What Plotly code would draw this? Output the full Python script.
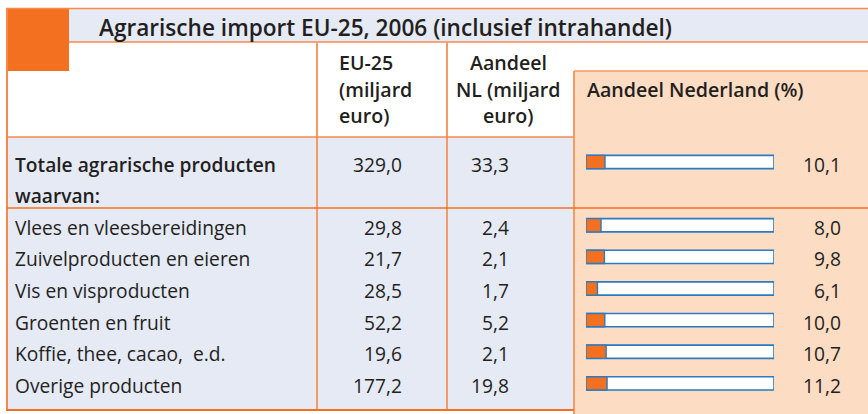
import plotly.graph_objects as go

# ---- data ----
title = "Agrarische import EU-25, 2006 (inclusief intrahandel)"
total_label = "Totale agrarische producten"
total_sub = "waarvan:"
categories = ["Vlees en vleesbereidingen", "Zuivelproducten en eieren", "Vis en visproducten",
              "Groenten en fruit", "Koffie, thee, cacao,  e.d.", "Overige producten"]
eu25 = [29.8, 21.7, 28.5, 52.2, 19.6, 177.2]
nl = [2.4, 2.1, 1.7, 5.2, 2.1, 19.8]
share = [8.0, 9.8, 6.1, 10.0, 10.7, 11.2]
total_eu25 = 329.0
total_nl = 33.3
total_share = 10.1
col_eu_header = ["EU-25", "(miljard", "euro)"]
col_nl_header = ["Aandeel", "NL (miljard", "euro)"]
col_share_header = "Aandeel Nederland (%)"

# ---- style ----
W, H = 868, 414
FONT = "Open Sans"
TXT = "#231f20"
ORANGE = "#f37021"
LINE = "#f58a4b"
LINE_V = "#f69a63"
BLUE_BG = "#e6eaf5"
PEACH = "#fddcc4"
BAR_EDGE = "#2a7bbf"
FS = 19.2
FS_HEAD = 19.6

def fmt(v):
    return f"{v:.1f}".replace(".", ",")

row_cats = [total_label, total_sub] + categories
data_cats = [total_label] + categories
data_share = [total_share] + share

fig = go.Figure()

fig.add_trace(go.Bar(x=[100] * len(data_cats), y=data_cats, orientation="h",
                     xaxis="x2", yaxis="y2", width=0.42,
                     marker=dict(color="white", line=dict(color=BAR_EDGE, width=1.6)),
                     hoverinfo="skip", showlegend=False))
fig.add_trace(go.Bar(x=data_share, y=data_cats, orientation="h",
                     xaxis="x2", yaxis="y2", width=0.42,
                     marker=dict(color=ORANGE, line=dict(color=BAR_EDGE, width=1.4)),
                     showlegend=False))

shapes = []
def rect(x0, y0, x1, y1, color):
    shapes.append(dict(type="rect", xref="x", yref="y", x0=x0, y0=y0, x1=x1, y1=y1,
                       fillcolor=color, line=dict(width=0), layer="below"))
def line(x0, y0, x1, y1, color=LINE, w=1.6):
    shapes.append(dict(type="line", xref="x", yref="y", x0=x0, y0=y0, x1=x1, y1=y1,
                       line=dict(color=color, width=w), layer="below"))

rect(69, 9, W, 42, BLUE_BG)
rect(7, 9, 69, 71, ORANGE)
rect(574, 71, W, H, PEACH)
rect(7, 137, 574, 410, BLUE_BG)

line(6, 8.5, W, 8.5)
line(69, 42, W, 42)
line(7, 8, 7, 410.5, LINE, 2)
line(317, 42, 317, 410, LINE_V, 2)
line(447, 42, 447, 410, LINE_V, 2)
line(574, 71, 574, H, LINE_V, 2)
line(574, 71, W, 71, LINE_V, 1.5)
line(7, 137, 574, 137)
line(7, 208, W, 208, ORANGE, 1.6)
line(6, 410, 574, 410, ORANGE, 2)

ann = []
def text(x, y, s, anchor="left", bold=False, yref="y", size=FS):
    ann.append(dict(x=x, y=y, xref="x", yref=yref, text=s, yshift=-2,
                    showarrow=False, xanchor=anchor, yanchor="middle",
                    font=dict(family=FONT, size=size, color=TXT,
                              weight=600 if bold else 400)))

text(97, 25, title, bold=True, size=22.6)
for s, y in zip(col_eu_header, [60, 87, 113]):
    text(337, y, s, bold=True, size=FS_HEAD)
for s, y in zip(col_nl_header, [60, 87, 113]):
    text(508, y, s, anchor="center", bold=True, size=FS_HEAD)
text(585, 87, col_share_header, bold=True, size=FS_HEAD)

text(13, total_label, total_label, bold=True, yref="y2")
text(13, total_sub, total_sub, bold=True, yref="y2")
text(404, total_label, fmt(total_eu25), anchor="right", yref="y2")
text(511, total_label, fmt(total_nl), anchor="right", yref="y2")
for c, a, b in zip(categories, eu25, nl):
    text(13, c, c, yref="y2")
    text(404, c, fmt(a), anchor="right", yref="y2")
    text(511, c, fmt(b), anchor="right", yref="y2")
for c, s in zip(data_cats, data_share):
    text(843, c, fmt(s), anchor="right", yref="y2")

fig.update_layout(
    width=W, height=H, margin=dict(l=0, r=0, t=0, b=0),
    paper_bgcolor="white", plot_bgcolor="rgba(0,0,0,0)",
    barmode="overlay", showlegend=False,
    xaxis=dict(range=[0, W], domain=[0, 1], visible=False, fixedrange=True),
    yaxis=dict(range=[H, 0], domain=[0, 1], visible=False, fixedrange=True),
    xaxis2=dict(range=[0, 100], domain=[586 / W, 774 / W], anchor="y2", visible=False),
    yaxis2=dict(type="category", categoryorder="array", categoryarray=row_cats,
                range=[len(row_cats) - 0.5, -0.5], domain=[1 - 399.2 / H, 1 - 146.2 / H],
                anchor="x2", visible=False),
    shapes=shapes, annotations=ann,
)

fig.write_html("out.html", config={"displayModeBar": False},
               post_script="document.body.style.margin='0';document.body.style.overflow='hidden';")
